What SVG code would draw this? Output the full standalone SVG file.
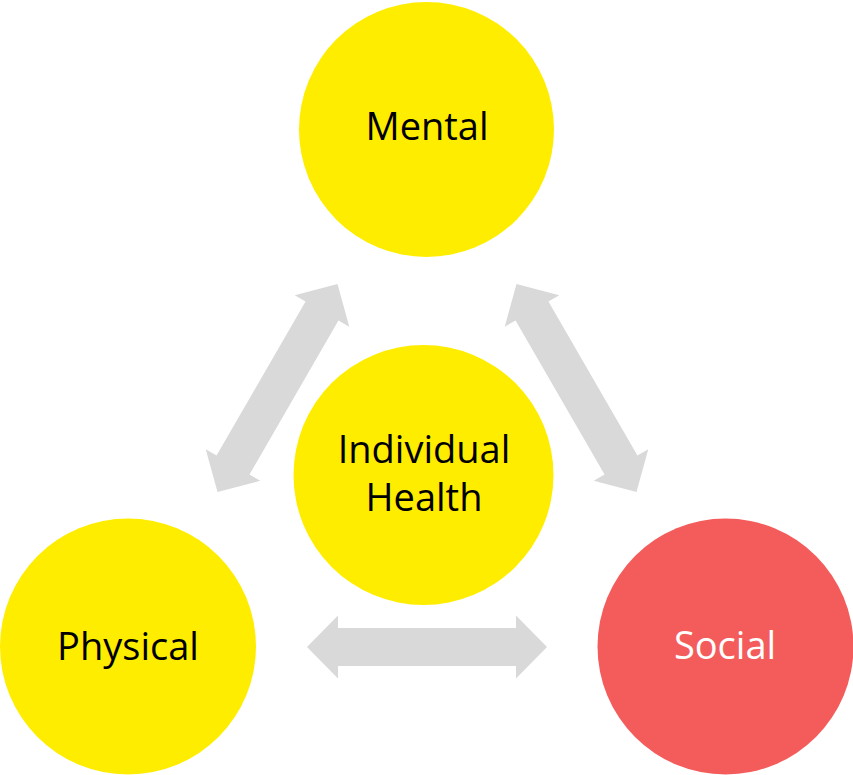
<svg xmlns="http://www.w3.org/2000/svg" width="853" height="775" viewBox="0 0 853 775">
<style>
.yellow{fill:#FFED00}
.red{fill:#F45C5C}
.arrow{fill:#D9D9D9}
.lbl{font-family:"Open Sans","Liberation Sans",sans-serif;font-size:38px;text-anchor:middle;fill:#000}
.lblw{fill:#fff}
</style>
<defs>
<path id="dbl" d="M-120,0 L-89,-31.5 L-89,-19 L89,-19 L89,-31.5 L120,0 L89,31.5 L89,19 L-89,19 L-89,31.5 Z"/>
</defs>
<rect width="853" height="775" fill="#fff"/>
<g id="connectors">
<use href="#dbl" class="arrow" transform="translate(277.5,388) rotate(-60)"/>
<use href="#dbl" class="arrow" transform="translate(576.5,388) rotate(60)"/>
<use href="#dbl" class="arrow" transform="translate(427,647)"/>
</g>
<g id="mental">
<circle class="yellow" cx="426.5" cy="129.5" r="127.5"/>
<text class="lbl" x="427" y="140">Mental</text>
</g>
<g id="individual-health">
<circle class="yellow" cx="423.5" cy="475" r="130"/>
<text class="lbl" x="424" y="463">Individual</text>
<text class="lbl" x="424" y="511">Health</text>
</g>
<g id="physical">
<circle class="yellow" cx="128" cy="646.5" r="128"/>
<text class="lbl" x="128" y="660">Physical</text>
</g>
<g id="social">
<circle class="red" cx="725.5" cy="646.5" r="128"/>
<text class="lbl lblw" x="725" y="659">Social</text>
</g>
</svg>
